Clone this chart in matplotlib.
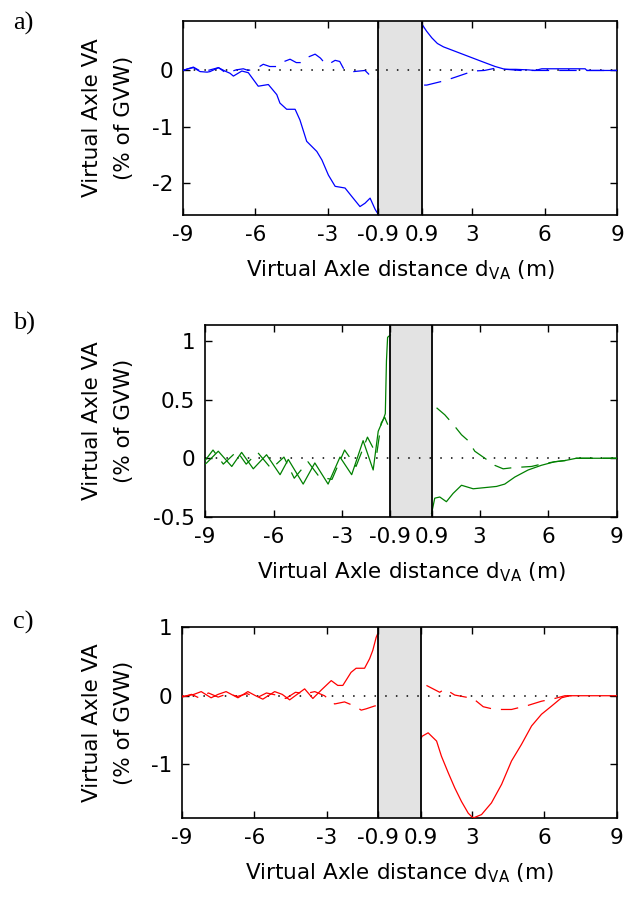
import matplotlib
matplotlib.use('Agg')
import matplotlib.pyplot as plt

# 数据
xticks = [-9, -6, -3, -0.9, 0.9, 3, 6, 9]
xticklabels = ['-9', '-6', '-3', '-0.9', '0.9', '3', '6', '9']

# a) 蓝色
a_solid_left_x = [-9.0, -8.8, -8.57, -8.29, -8.0, -7.88, -7.53, -7.26, -7.05, -6.91, -6.56, -6.29, -5.88,
                  -5.46, -5.11, -4.98, -4.70, -4.35, -4.15, -3.87, -3.45, -3.24, -2.97, -2.69, -2.28,
                  -2.0, -1.66, -1.45, -1.24, -1.03, -0.9]
a_solid_left_y = [0.0, 0.03, 0.05, -0.02, -0.03, -0.02, 0.05, -0.01, -0.05, -0.1, -0.01, -0.04, -0.28,
                  -0.25, -0.43, -0.58, -0.69, -0.69, -0.88, -1.26, -1.44, -1.59, -1.86, -2.06, -2.09,
                  -2.24, -2.42, -2.36, -2.27, -2.47, -2.56]
a_dash_left_x = [-9.0, -8.57, -8.2, -7.88, -7.53, -7.2, -6.8, -6.5, -6.29, -5.9, -5.67, -5.4, -5.11,
                 -4.8, -4.56, -4.3, -4.08, -3.8, -3.52, -3.3, -3.1, -2.97, -2.69, -2.5, -2.35, -2.1,
                 -1.93, -1.45, -1.17, -0.9]
a_dash_left_y = [0.0, 0.06, -0.03, 0.01, 0.05, -0.05, 0.01, 0.03, 0.0, 0.05, 0.11, 0.07, 0.07,
                 0.16, 0.20, 0.14, 0.14, 0.24, 0.29, 0.22, 0.12, 0.11, 0.18, 0.16, 0.04, -0.01,
                 -0.02, 0.0, -0.12, -0.16]
a_solid_right_x = [0.9, 0.93, 1.1, 1.32, 1.55, 1.80, 2.29, 2.84, 3.39, 3.95, 4.36, 4.8, 5.33, 5.6,
                   5.88, 6.5, 7.1, 7.68, 7.75, 9.0]
a_solid_right_y = [0.84, 0.81, 0.70, 0.58, 0.48, 0.42, 0.34, 0.25, 0.16, 0.07, 0.02, 0.02, 0.01, 0.0,
                   0.03, 0.03, 0.03, 0.03, 0.0, 0.0]
a_dash_right_x = [1.0, 1.11, 1.87, 2.29, 2.7, 3.05, 3.5, 3.95, 4.4, 5.0, 6.0, 7.0, 9.0]
a_dash_right_y = [-0.26, -0.26, -0.18, -0.12, -0.06, -0.01, 0.0, 0.04, 0.02, 0.0, 0.0, 0.0, 0.0]

# b) 绿色
b_solid_left_x = [-9.0, -8.93, -8.42, -7.83, -7.40, -6.89, -6.31, -5.72, -5.36, -4.71, -4.20, -3.62,
                  -3.10, -2.59, -2.09, -1.65, -1.43, -1.21, -1.12, -1.07, -1.02, -0.9]
b_solid_left_y = [-0.05, -0.04, 0.06, -0.07, 0.05, -0.09, 0.03, -0.14, -0.01, -0.22, -0.04, -0.22,
                  0.01, -0.14, 0.15, -0.10, 0.23, 0.33, 0.38, 0.83, 1.03, 1.05]
b_dash_left_x = [-9.0, -8.65, -8.2, -7.6, -7.2, -6.7, -6.1, -5.55, -5.1, -4.5, -4.0, -3.45, -2.9,
                 -2.4, -1.9, -1.5, -1.3, -1.15, -1.0, -0.9]
b_dash_left_y = [-0.02, 0.07, -0.05, 0.06, -0.05, 0.05, -0.09, 0.01, -0.17, -0.03, -0.16, -0.18, 0.07,
                 -0.07, 0.18, 0.03, 0.30, 0.35, 0.28, 0.22]
b_solid_right_x = [0.9, 0.93, 1.04, 1.26, 1.55, 1.84, 2.21, 2.72, 3.23, 3.74, 4.10, 4.54, 5.12, 5.70,
                   6.28, 6.72, 7.23, 9.0]
b_solid_right_y = [-0.47, -0.445, -0.34, -0.33, -0.37, -0.30, -0.23, -0.26, -0.25, -0.24, -0.22, -0.16,
                   -0.10, -0.06, -0.03, -0.02, 0.0, 0.0]
b_dash_right_x = [1.12, 1.48, 1.84, 2.21, 2.50, 2.79, 3.23, 3.66, 4.03, 4.46, 5.27, 5.70, 6.28, 6.72,
                  7.23, 9.0]
b_dash_right_y = [0.43, 0.37, 0.29, 0.20, 0.15, 0.06, 0.0, -0.06, -0.09, -0.08, -0.07, -0.05, -0.03,
                  -0.02, 0.0, 0.0]

# c) 红色
c_solid_left_x = [-9.0, -8.89, -8.5, -8.20, -7.79, -7.5, -7.17, -6.68, -6.27, -5.95, -5.65, -5.16,
                  -4.85, -4.54, -3.92, -3.58, -3.24, -2.82, -2.55, -2.34, -2.00, -1.79, -1.44, -1.23,
                  -1.10, -0.96, -0.9]
c_solid_left_y = [0.0, -0.01, 0.02, 0.06, -0.03, 0.02, 0.06, -0.03, 0.06, 0.0, -0.05, 0.06,
                  0.02, -0.06, 0.10, -0.04, 0.08, 0.22, 0.15, 0.15, 0.34, 0.40, 0.40, 0.54,
                  0.66, 0.85, 0.90]
c_dash_left_x = [-9.0, -8.6, -8.3, -7.9, -7.5, -7.1, -6.7, -6.3, -5.9, -5.5, -5.1, -4.7, -4.3, -3.9,
                 -3.5, -3.10, -2.68, -2.27, -1.79, -1.58, -1.37, -1.03, -0.9]
c_dash_left_y = [-0.02, 0.02, -0.03, 0.04, -0.02, 0.03, -0.01, 0.03, -0.03, 0.04, 0.01, -0.04, 0.05,
                 0.03, 0.06, 0.0, -0.12, -0.09, -0.16, -0.21, -0.19, -0.15, -0.14]
c_solid_right_x = [0.9, 0.94, 1.19, 1.54, 1.74, 2.02, 2.29, 2.57, 2.85, 3.05, 3.40, 3.81, 4.23, 4.64,
                   5.05, 5.47, 5.88, 6.30, 6.71, 7.05, 9.0]
c_solid_right_y = [-0.62, -0.59, -0.54, -0.66, -0.88, -1.12, -1.34, -1.54, -1.71, -1.78, -1.73, -1.56,
                   -1.29, -0.95, -0.71, -0.44, -0.27, -0.15, -0.03, 0.0, 0.0]
c_dash_right_x = [1.12, 1.67, 1.88, 2.29, 3.05, 3.47, 3.95, 4.64, 5.33, 5.88, 6.43, 6.85, 7.2]
c_dash_right_y = [0.15, 0.05, 0.10, 0.01, -0.04, -0.16, -0.20, -0.20, -0.14, -0.08, -0.04, 0.0, 0.0]

plt.rcParams['font.family'] = ['DejaVu Sans']
plt.rcParams['font.size'] = 15.5
plt.rcParams['axes.unicode_minus'] = False

fig = plt.figure(figsize=(6.25, 9), dpi=100)

panels = [
    ('a)', [0.2928, 0.7611, 0.6944, 0.2156], (-2.57, 0.88), [-2, -1, 0], ['-2', '-1', '0'], 'blue',
     a_solid_left_x, a_solid_left_y, a_solid_right_x, a_solid_right_y,
     a_dash_left_x, a_dash_left_y, a_dash_right_x, a_dash_right_y, 23),
    ('b)', [0.328, 0.4256, 0.659, 0.2133], (-0.5, 1.135), [-0.5, 0, 0.5, 1], ['-0.5', '0', '0.5', '1'],
     '#008000',
     b_solid_left_x, b_solid_left_y, b_solid_right_x, b_solid_right_y,
     b_dash_left_x, b_dash_left_y, b_dash_right_x, b_dash_right_y, 323),
    ('c)', [0.291, 0.0911, 0.696, 0.2122], (-1.78, 1.0), [-1, 0, 1], ['-1', '0', '1'], 'red',
     c_solid_left_x, c_solid_left_y, c_solid_right_x, c_solid_right_y,
     c_dash_left_x, c_dash_left_y, c_dash_right_x, c_dash_right_y, 622),
]

for (tag, rect, ylim, yt, ytl, col, slx, sly, srx, sry, dlx, dly, drx, dry, tag_y) in panels:
    ax = fig.add_axes(rect)
    # 灰色区域
    ax.axvspan(-0.9, 0.9, color='#e3e3e3', lw=0, zorder=1)
    ax.axvline(-0.9, color='black', lw=1.3, zorder=4)
    ax.axvline(0.9, color='black', lw=1.3, zorder=4)
    ax.axhline(0, color='black', lw=1.1, ls=(0, (1, 6)), zorder=2)
    # 实线和虚线
    ax.plot(slx, sly, color=col, lw=0.9, zorder=3)
    ax.plot(srx, sry, color=col, lw=0.9, zorder=3)
    ax.plot(dlx, dly, color=col, lw=0.9, ls=(0, (14, 8)), zorder=3)
    ax.plot(drx, dry, color=col, lw=0.9, ls=(0, (14, 8)), zorder=3)

    ax.set_xlim(-9, 9)
    ax.set_ylim(*ylim)
    ax.set_xticks(xticks)
    ax.set_xticklabels(xticklabels)
    ax.set_yticks(yt)
    ax.set_yticklabels(ytl)
    ax.tick_params(direction='in', length=5, width=1, top=True, right=True, pad=7)
    for s in ax.spines.values():
        s.set_linewidth(1.2)
    ax.set_xlabel('Virtual Axle distance d$_{\\mathrm{VA}}$ (m)', labelpad=10)

    ycen = rect[1] + rect[3] / 2
    fig.text(108 / 625, ycen, 'Virtual Axle VA\n(% of GVW)', rotation=90, ha='center', va='center',
             linespacing=1.75)
    fig.text(13 / 625, 1 - tag_y / 900, tag, family='Liberation Serif', fontsize=19,
             ha='left', va='center')

plt.savefig('out.png', dpi=100)
